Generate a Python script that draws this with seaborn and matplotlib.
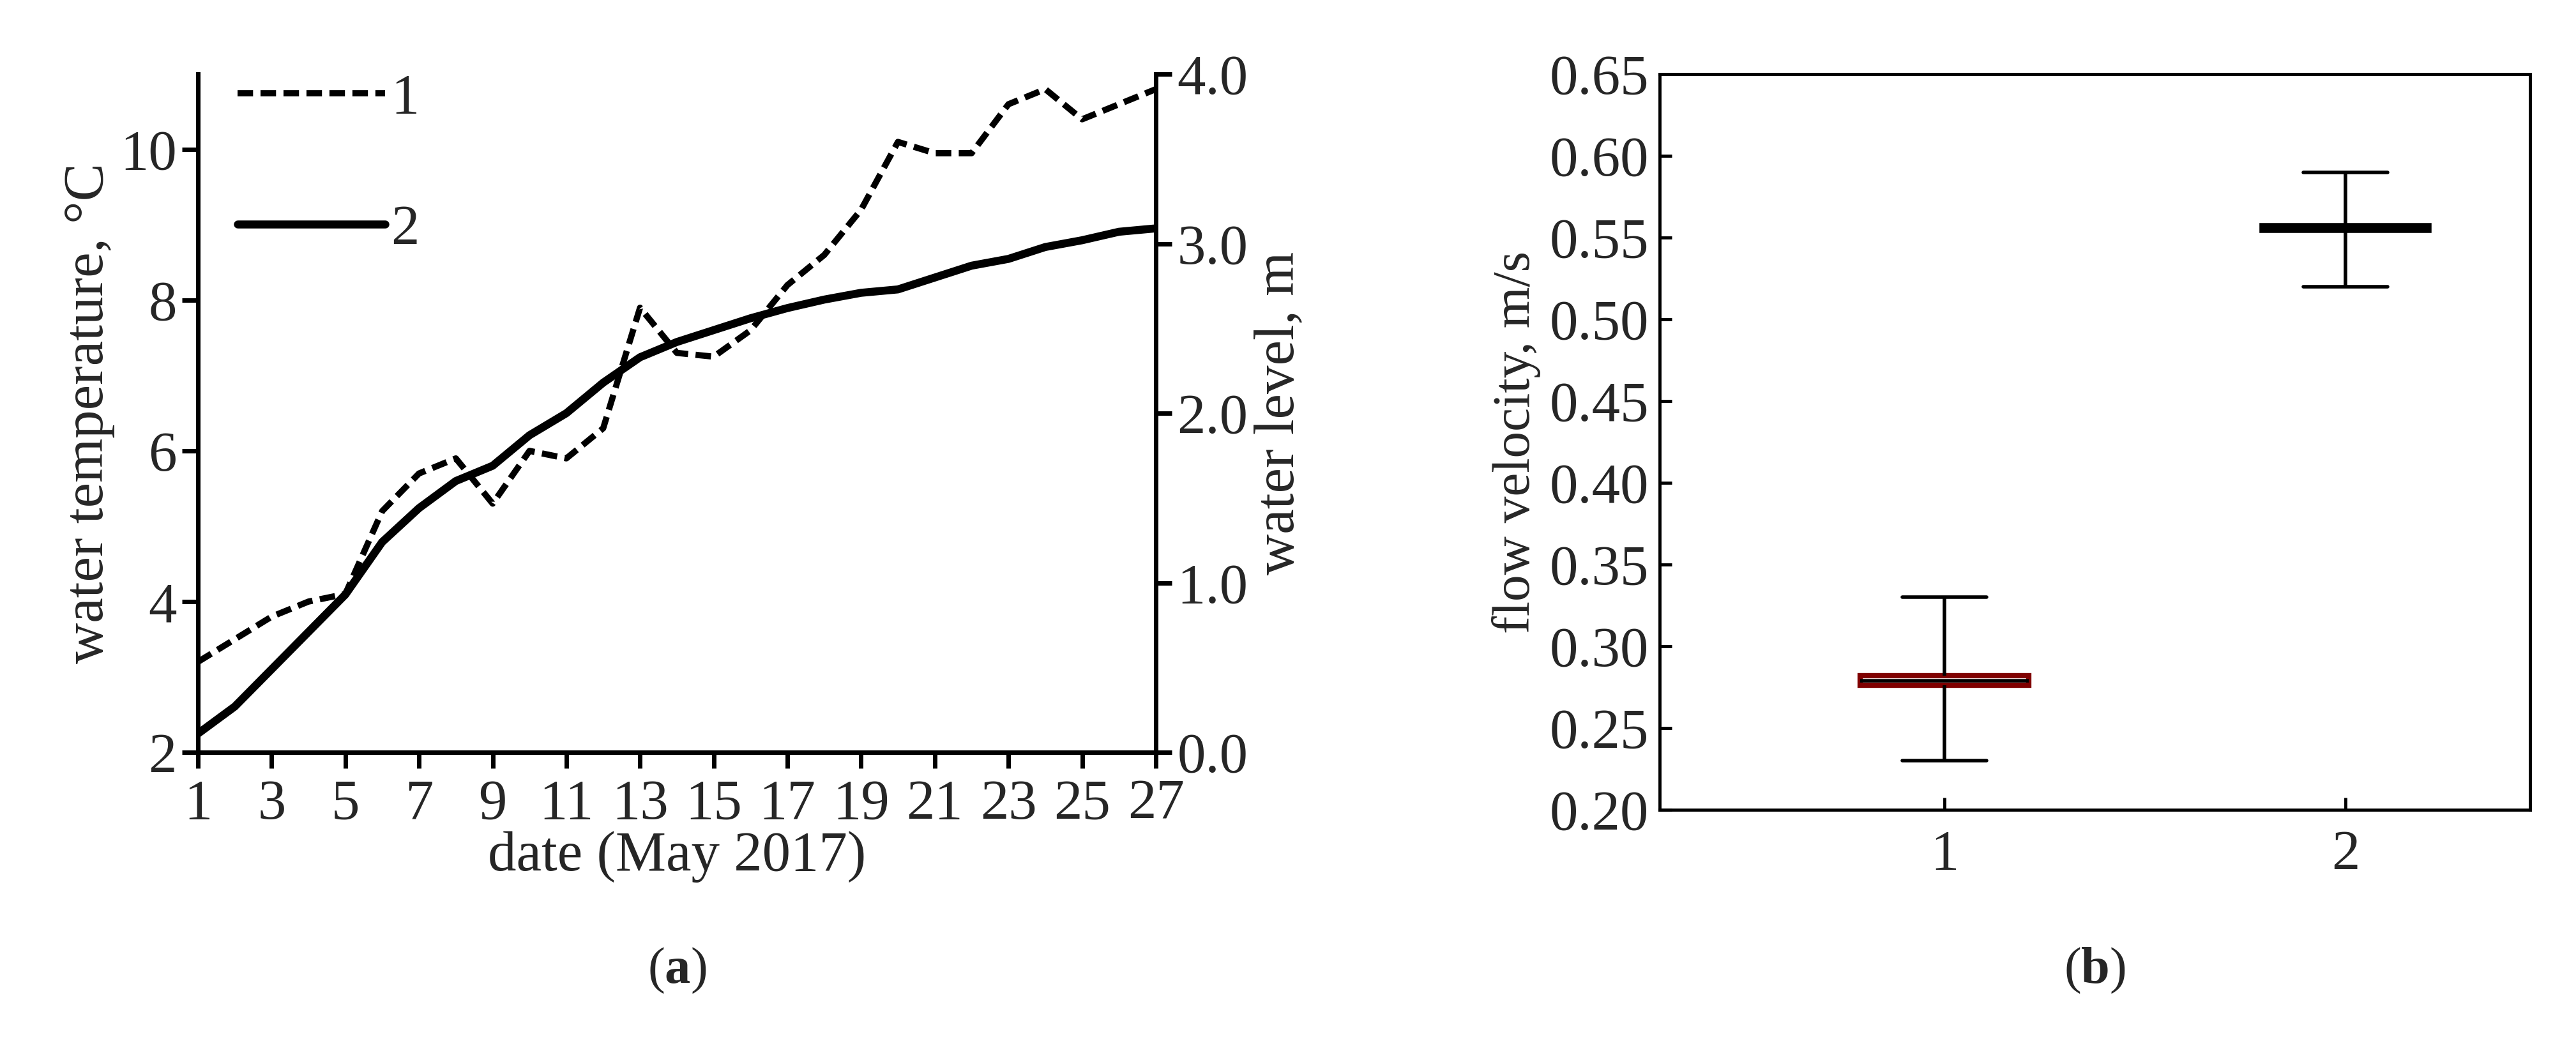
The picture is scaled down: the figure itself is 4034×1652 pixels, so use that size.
import numpy as np
import pandas as pd
import seaborn as sns
import matplotlib
matplotlib.use("Agg")
import matplotlib.pyplot as plt

days = list(range(1, 28))
temperature = [3.2, 3.5, 3.8, 4.0, 4.1, 5.2, 5.7, 5.9, 5.3, 6.0, 5.9, 6.3, 7.9, 7.3, 7.25,
               7.6, 8.2, 8.6, 9.2, 10.1, 9.95, 9.95, 10.6, 10.8, 10.4, 10.6, 10.8]
water_level = [0.11, 0.27, 0.49, 0.71, 0.93, 1.24, 1.44, 1.60, 1.69, 1.87, 2.00, 2.18, 2.33, 2.42,
               2.49, 2.56, 2.62, 2.67, 2.71, 2.73, 2.80, 2.87, 2.91, 2.98, 3.02, 3.07, 3.09]

groups = ["1", "2"]
velocity_1 = [0.23, 0.276, 0.279, 0.282, 0.33]
velocity_2 = [0.52, 0.554, 0.556, 0.558, 0.59]

sns.set_theme(style="ticks")
plt.rcParams["font.family"] = ["Liberation Serif", "DejaVu Serif"]
plt.rcParams["mathtext.fontset"] = "custom"
plt.rcParams["mathtext.bf"] = "Liberation Serif:bold"
plt.rcParams["mathtext.rm"] = "Liberation Serif"
fs = 64

fig = plt.figure(figsize=(40.34, 16.52), dpi=100)
ax = fig.add_axes([310 / 4034, 1 - 1178 / 1652, 1500 / 4034, 1062 / 1652])
ax2 = ax.twinx()

df = pd.DataFrame({"day": days, "temp": temperature, "level": water_level})
sns.lineplot(data=df, x="day", y="temp", ax=ax, color="black", lw=7, linestyle=(0, (2.5, 1.2)), label="1", legend=False)
sns.lineplot(data=df, x="day", y="level", ax=ax2, color="black", lw=9, label="2", legend=False)

ax.set_xlim(1, 27)
ax.set_ylim(2, 11)
ax2.set_ylim(0, 4.0)
ax.set_xticks(range(1, 28, 2))
ax.set_yticks([2, 4, 6, 8, 10])
ax2.set_yticks([0, 1, 2, 3, 4])
ax2.set_yticklabels(["0.0", "1.0", "2.0", "3.0", "4.0"])
for a in (ax, ax2):
    a.spines["top"].set_visible(False)
    for s in a.spines.values():
        s.set_linewidth(5)
        s.set_color("black")
    a.tick_params(labelsize=fs, width=5, length=18, color="black", pad=6)
ax.tick_params(axis="x", pad=12)
ax.set_xlabel("date (May 2017)", fontsize=fs, labelpad=0)
ax.set_ylabel("water temperature, °C", fontsize=fs, labelpad=6)
ax2.set_ylabel("water level, m", fontsize=fs, labelpad=6)

h1, l1 = ax.get_legend_handles_labels()
h2, l2 = ax2.get_legend_handles_labels()
ax.legend(h1 + h2, l1 + l2, loc="upper left", frameon=False, fontsize=fs, handlelength=2.6,
          labelspacing=1.4, handletextpad=0.1, borderaxespad=0.3, bbox_to_anchor=(0.0, 1.06))

# panel b
bx = fig.add_axes([2599 / 4034, 1 - 1268 / 1652, 1363 / 4034, 1152 / 1652])
vdf = pd.DataFrame({"group": ["1"] * 5 + ["2"] * 5, "v": velocity_1 + velocity_2})
sns.boxplot(data=vdf, x="group", y="v", order=groups, ax=bx, whis=(0, 100), width=0.42,
            color="white", linecolor="black", linewidth=4)
bx.patches[0].set_facecolor("white")
bx.patches[0].set_edgecolor("#7f0000")
bx.patches[0].set_linewidth(6)
bx.patches[1].set_facecolor("black")
bx.patches[1].set_edgecolor("black")
for line in bx.lines:
    line.set_linewidth(4)
bx.set_xlim(-0.71, 1.46)
bx.set_ylim(0.20, 0.65)
bx.set_yticks(np.arange(0.20, 0.651, 0.05))
bx.set_yticklabels([f"{t:.2f}" for t in np.arange(0.20, 0.651, 0.05)])
for s in bx.spines.values():
    s.set_visible(True)
    s.set_linewidth(3.5)
    s.set_color("black")
bx.tick_params(labelsize=fs, direction="in", width=3.5, length=14, color="black", pad=12)
bx.tick_params(axis="x", pad=22)
bx.set_xlabel("")
bx.set_ylabel("flow velocity, m/s", fontsize=fs - 4, labelpad=10)

fig.text(1060 / 4034, 1 - 1520 / 1652, r"(${\mathbf{a}}$)", fontsize=58, ha="center", va="center")
fig.text(3280 / 4034, 1 - 1520 / 1652, r"(${\mathbf{b}}$)", fontsize=58, ha="center", va="center")

fig.savefig("out.png", dpi=100, facecolor="white")
